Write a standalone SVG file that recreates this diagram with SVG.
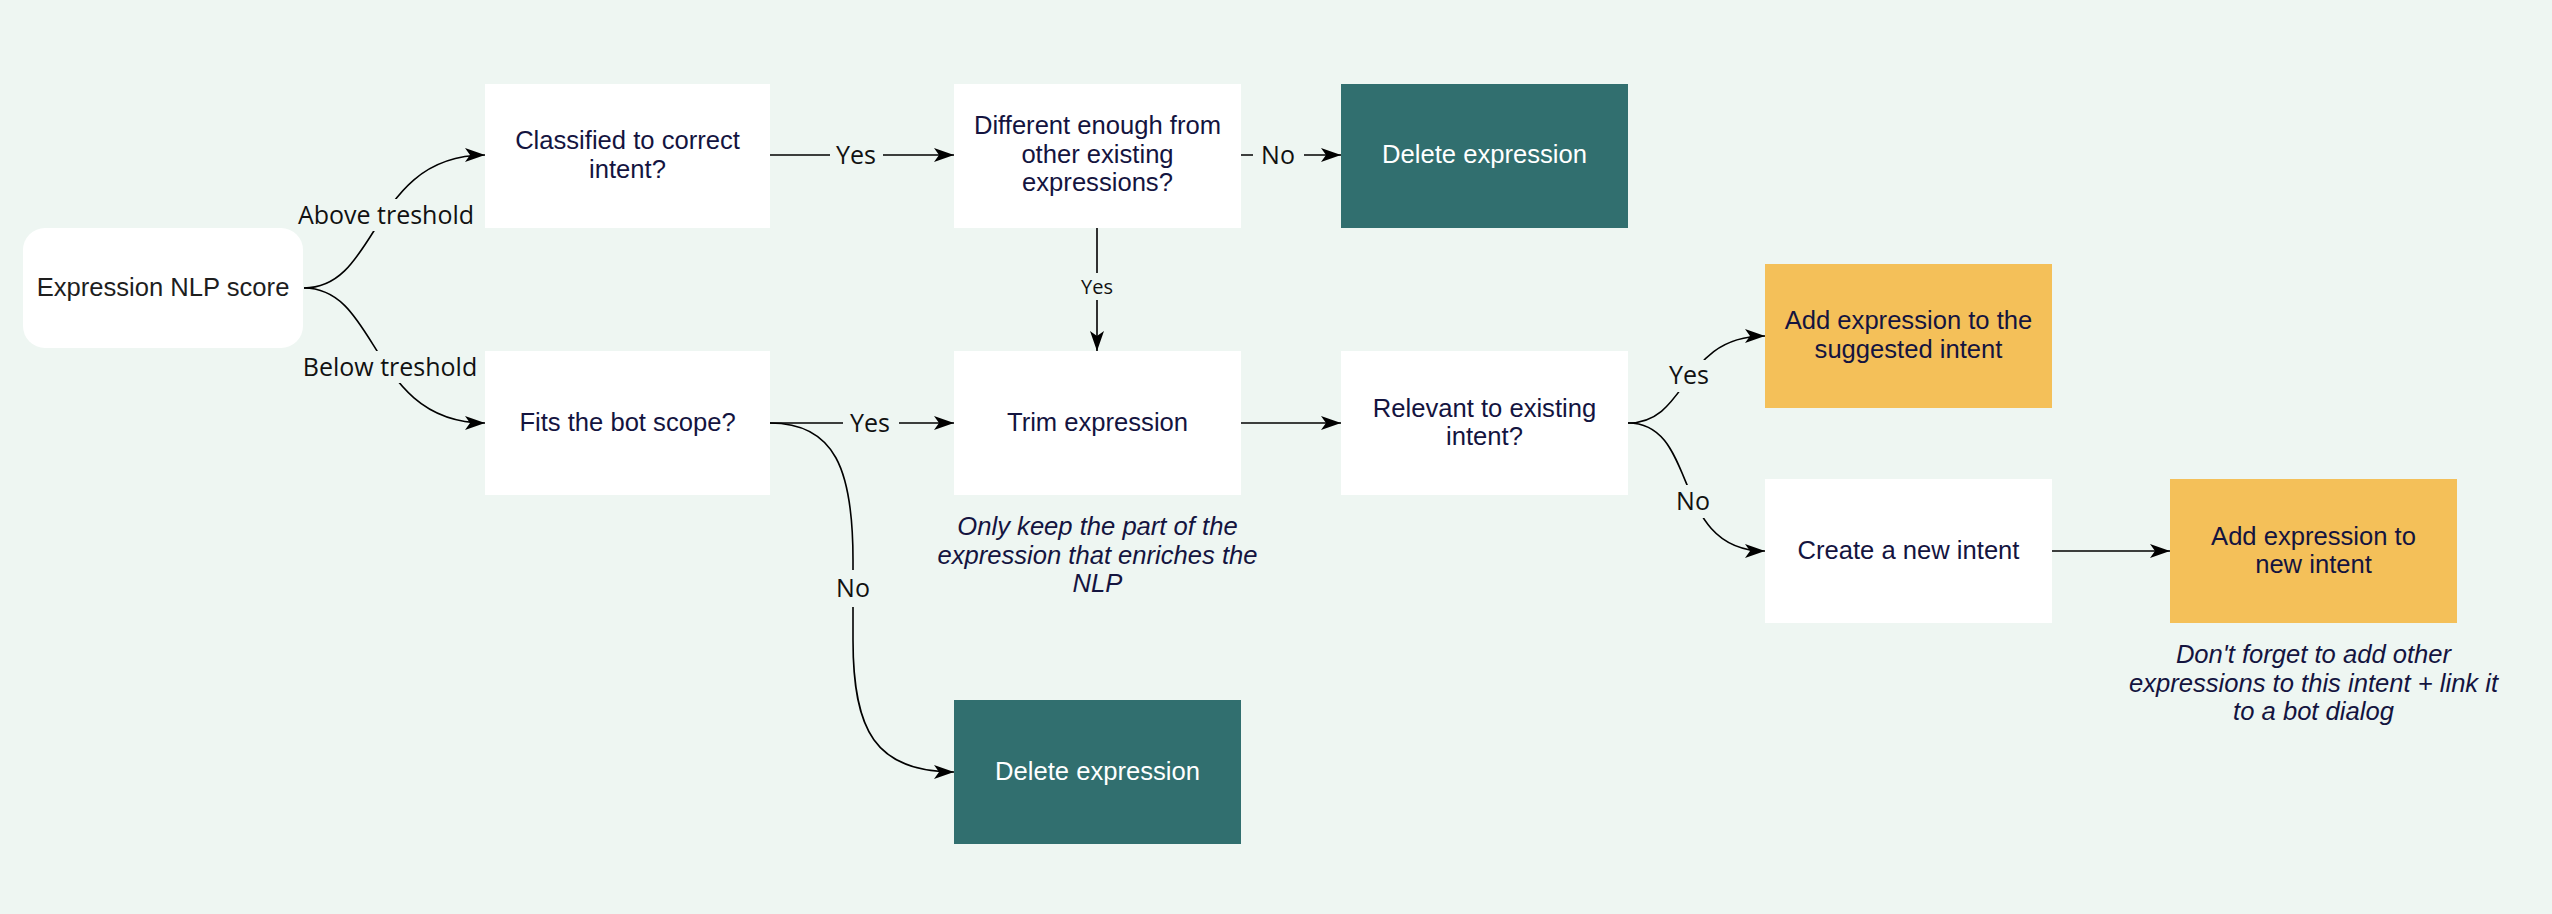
<svg xmlns="http://www.w3.org/2000/svg" width="2552" height="914" viewBox="0 0 2552 914">
<style>
.bg{fill:#eef6f2}
.w{fill:#ffffff}
.teal{fill:#316f6f}
.yel{fill:#f4c059}
.t{font-family:"Liberation Sans",Arial,sans-serif;font-size:25.6px;fill:#14143f;text-anchor:middle}
.tw{font-family:"Liberation Sans",Arial,sans-serif;font-size:25.6px;fill:#ffffff;text-anchor:middle}
.ts{font-family:"Liberation Sans",Arial,sans-serif;font-size:25.6px;fill:#1e1e1e;text-anchor:middle}
.ti{font-family:"Liberation Sans",Arial,sans-serif;font-size:25.6px;font-style:italic;fill:#14143f;text-anchor:middle}
.e{fill:none;stroke:#000;stroke-width:1.6}
.lb{fill:#eef6f2}
.l{font-family:"Open Sans",sans-serif;font-size:25px;fill:#111;text-anchor:middle}
.ls{font-family:"Open Sans",sans-serif;font-size:20px;fill:#111;text-anchor:middle}
</style>
<defs>
<marker id="ar" markerUnits="userSpaceOnUse" markerWidth="22" markerHeight="14" refX="20" refY="7" orient="auto">
<path d="M0,0 L20,7 L0,14 L5,7 Z" fill="#000"/>
</marker>
</defs>
<rect class="bg" x="0" y="0" width="2552" height="914"/>

<g id="connectors">
<path class="e" d="M304,288 C380,288 370,155 485,155" marker-end="url(#ar)"/>
<path class="e" d="M304,288 C380,288 370,423 485,423" marker-end="url(#ar)"/>
<path class="e" d="M770,155 L954,155" marker-end="url(#ar)"/>
<path class="e" d="M1241,155 L1341,155" marker-end="url(#ar)"/>
<path class="e" d="M1097,228 L1097,351" marker-end="url(#ar)"/>
<path class="e" d="M770,423 L954,423" marker-end="url(#ar)"/>
<path class="e" d="M770,423 C835,423 853,470 853,560 L853,640 C853,730 875,772 954,772" marker-end="url(#ar)"/>
<path class="e" d="M1241,423 L1341,423" marker-end="url(#ar)"/>
<path class="e" d="M1628,423 C1690,423 1680,336 1765,336" marker-end="url(#ar)"/>
<path class="e" d="M1628,423 C1700,423 1670,551 1765,551" marker-end="url(#ar)"/>
<path class="e" d="M2052,551 L2170,551" marker-end="url(#ar)"/>
<g id="edge-labels">
<rect class="lb" x="294" y="199" width="184" height="32"/>
<text class="l" x="386" y="224">Above treshold</text>
<rect class="lb" x="298" y="351" width="184" height="32"/>
<text class="l" x="390" y="376">Below treshold</text>
<rect class="lb" x="830" y="140" width="53" height="30"/>
<text class="l" x="856" y="164">Yes</text>
<rect class="lb" x="1253" y="140" width="51" height="30"/>
<text class="l" x="1278" y="164">No</text>
<rect class="lb" x="1080" y="273" width="34" height="27"/>
<text class="ls" x="1097" y="294">Yes</text>
<rect class="lb" x="843" y="408" width="56" height="30"/>
<text class="l" x="870" y="432">Yes</text>
<rect class="lb" x="835" y="570" width="36" height="37"/>
<text class="l" x="853" y="597">No</text>
<rect class="lb" x="1669" y="360" width="40" height="32"/>
<text class="l" x="1689" y="384">Yes</text>
<rect class="lb" x="1673" y="485" width="40" height="33"/>
<text class="l" x="1693" y="510">No</text>
</g>
</g>

<g id="start">
<rect class="w" x="23" y="228" width="280" height="120" rx="22"/>
<text class="ts" x="163" y="296">Expression NLP score</text>
</g>
<g id="classified">
<rect class="w" x="485" y="84" width="285" height="144"/>
<text class="t" x="627.5" y="149">Classified to correct</text>
<text class="t" x="627.5" y="177.5">intent?</text>
</g>
<g id="fits">
<rect class="w" x="485" y="351" width="285" height="144"/>
<text class="t" x="627.5" y="431">Fits the bot scope?</text>
</g>
<g id="different">
<rect class="w" x="954" y="84" width="287" height="144"/>
<text class="t" x="1097.5" y="134">Different enough from</text>
<text class="t" x="1097.5" y="162.5">other existing</text>
<text class="t" x="1097.5" y="191">expressions?</text>
</g>
<g id="delete1">
<rect class="teal" x="1341" y="84" width="287" height="144"/>
<text class="tw" x="1484.5" y="163">Delete expression</text>
</g>
<g id="trim">
<rect class="w" x="954" y="351" width="287" height="144"/>
<text class="t" x="1097.5" y="431">Trim expression</text>
</g>
<g id="trim-note">
<text class="ti" x="1097.5" y="535">Only keep the part of the</text>
<text class="ti" x="1097.5" y="564">expression that enriches the</text>
<text class="ti" x="1097.5" y="592">NLP</text>
</g>
<g id="relevant">
<rect class="w" x="1341" y="351" width="287" height="144"/>
<text class="t" x="1484.5" y="416.5">Relevant to existing</text>
<text class="t" x="1484.5" y="445">intent?</text>
</g>
<g id="suggested">
<rect class="yel" x="1765" y="264" width="287" height="144"/>
<text class="t" x="1908.5" y="329">Add expression to the</text>
<text class="t" x="1908.5" y="357.5">suggested intent</text>
</g>
<g id="create">
<rect class="w" x="1765" y="479" width="287" height="144"/>
<text class="t" x="1908.5" y="559">Create a new intent</text>
</g>
<g id="addnew">
<rect class="yel" x="2170" y="479" width="287" height="144"/>
<text class="t" x="2313.5" y="544.5">Add expression to</text>
<text class="t" x="2313.5" y="573">new intent</text>
</g>
<g id="addnew-note">
<text class="ti" x="2313.5" y="663">Don't forget to add other</text>
<text class="ti" x="2313.5" y="692">expressions to this intent + link it</text>
<text class="ti" x="2313.5" y="720">to a bot dialog</text>
</g>
<g id="delete2">
<rect class="teal" x="954" y="700" width="287" height="144"/>
<text class="tw" x="1097.5" y="780">Delete expression</text>
</g>
</svg>
